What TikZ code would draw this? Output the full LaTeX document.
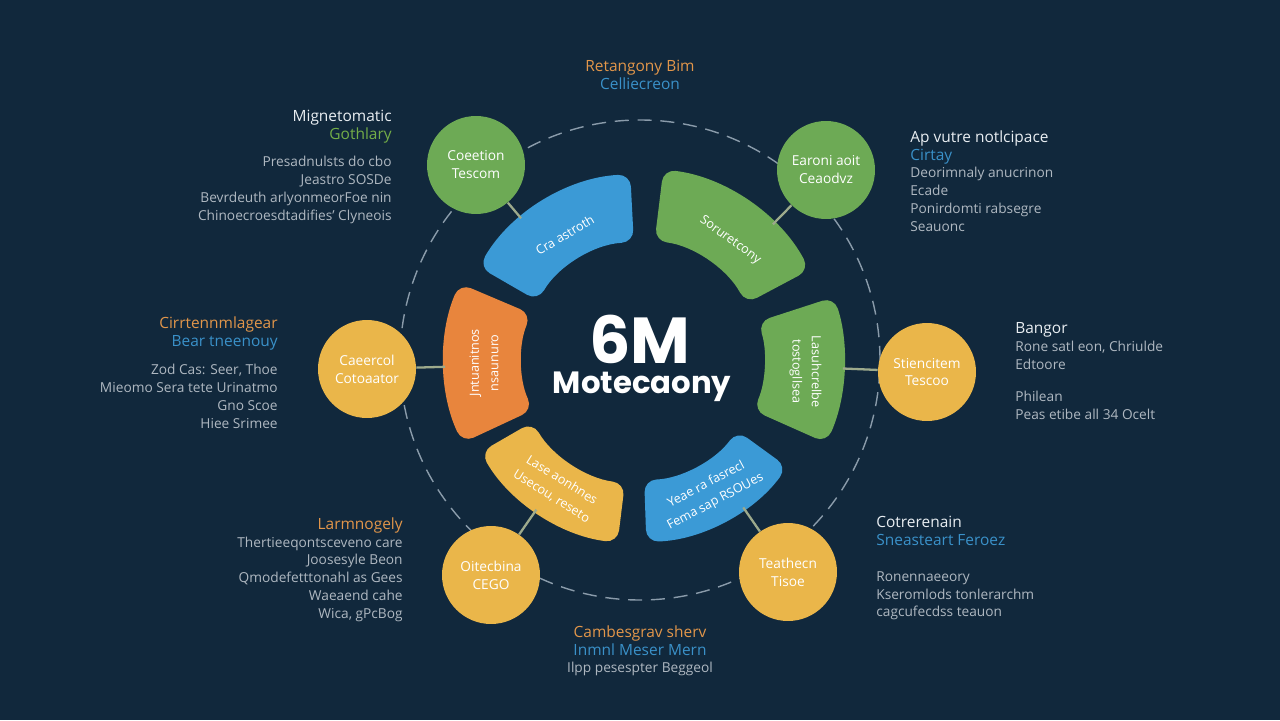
\documentclass[tikz,border=0pt]{standalone}
\usepackage{fontspec}
\setmainfont{Open Sans}
\newfontfamily\titlefont{Poppins}
\usepackage{tikz}
\usetikzlibrary{calc}
\definecolor{bg}{HTML}{11283C}
\definecolor{segblue}{HTML}{3B9AD6}
\definecolor{seggreen}{HTML}{6DAA55}
\definecolor{segorange}{HTML}{E8853D}
\definecolor{segyellow}{HTML}{EAB64A}
\definecolor{linkgray}{HTML}{9DAA8C}
\definecolor{dashgray}{HTML}{8A9BAA}
\definecolor{txtgray}{HTML}{AFB8C1}
\definecolor{txtwhite}{HTML}{E9EEF2}
\definecolor{txtorange}{HTML}{E2964A}
\definecolor{txtblue}{HTML}{3A91C9}
\definecolor{txtgreen}{HTML}{74AE48}
\tikzstyle{bubble}=[circle,minimum size=1.96cm,inner sep=0pt,text=white,
        align=center,font=\fontsize{7.8}{10.2}\selectfont]
\tikzstyle{segment}=[rounded corners=7pt]
\tikzstyle{segtext}=[text=white,align=center,font=\fontsize{7.2}{11}\selectfont]
\tikzstyle{block}=[inner sep=0pt,text=txtgray,font=\fontsize{7.8}{10.2}\selectfont]
\tikzstyle{link}=[draw=linkgray,line width=1.3pt]
\tikzstyle{ring}=[draw=dashgray,line width=0.8pt,dash pattern=on 8pt off 5pt]
\newcommand{\hdwhite}[1]{{\fontsize{8.8}{10.2}\selectfont\textcolor{txtwhite}{#1}}}
\newcommand{\hdorange}[1]{{\fontsize{8.8}{10.2}\selectfont\textcolor{txtorange}{#1}}}
\newcommand{\hdblue}[1]{{\fontsize{8.8}{10.2}\selectfont\textcolor{txtblue}{#1}}}
\newcommand{\hdgreen}[1]{{\fontsize{8.8}{10.2}\selectfont\textcolor{txtgreen}{#1}}}

\begin{document}
\begin{tikzpicture}[x=0.02cm,y=0.02cm]
\fill[bg] (-640,-360) rectangle (640,360);
\useasboundingbox (-640,-360) rectangle (640,360);
\draw[ring] (0,0) circle (240);
% segments of the ring
\fill[segment,segblue] (93:118) arc (93:150:118) -- (150:186) arc (150:93:186) -- cycle;
\fill[segment,seggreen] (28:120) arc (28:83:120) -- (83:192) arc (83:28:192) -- cycle;
\fill[segment,seggreen] (-24:124) arc (-24:18:124) -- (18:204) arc (18:-24:204) -- cycle;
\fill[segment,segblue] (-88:120) arc (-88:-36:120) -- (-36:182) arc (-36:-88:182) -- cycle;
\fill[segment,segyellow] (-150:124) arc (-150:-97:124) -- (-97:184) arc (-97:-150:184) -- cycle;
\fill[segment,segorange] (157:118) arc (157:205:118) -- (205:196) arc (205:157:196) -- cycle;
\node[segtext,rotate=31] (sbt) at (121:146) {Cra astroth};
\node[segtext,rotate=-36] (sgt) at (53:150) {Soruretcony};
\node[segtext,rotate=-90] (sgr) at (-4:166) {Lasuhcrelbe\\tostogllsea};
\node[segtext,rotate=28] (sbb) at (-62:151) {Yeae ra fasrecl\\Fema sap RSOUes};
\node[segtext,rotate=-32] (syb) at (-123:153) {Lase aonhnes\\Usecou, reseto};
\node[segtext,rotate=90] (sol) at (181:156) {Jntuanitnos\\nsaunuro};
% centre title
\node[text=white,font=\titlefont\bfseries\fontsize{37}{40}\selectfont,anchor=base] (title) at (0,-3) {6M};
\node[text=white,font=\titlefont\fontsize{17.5}{19}\selectfont,anchor=base] (subtitle) at (2,-33) {\textbf{Motecaony}};
% outer circles
\node[bubble,fill=seggreen] (c1) at (-164,195) {Coeetion\\Tescom};
\node[bubble,fill=seggreen] (c2) at (186,190) {Earoni aoit\\Ceaodvz};
\node[bubble,fill=segyellow] (c3) at (-273,-9) {Caeercol\\Cotoaator};
\node[bubble,fill=segyellow] (c4) at (287,-12) {Stiencitem\\Tescoo};
\node[bubble,fill=segyellow] (c5) at (-149,-215) {Oitecbina\\CEGO};
\node[bubble,fill=segyellow] (c6) at (148,-212) {Teathecn\\Tisoe};
\coordinate (p1) at (130:185);
\coordinate (p2) at (45.6:190);
\coordinate (p3) at (182:195);
\coordinate (p4) at (-2.4:203);
\coordinate (p5) at (-124.7:182);
\coordinate (p6) at (-55:180);
% text blocks
\node[block,anchor=north east,align=right] (tl) at (-248,250)
  {\hdwhite{Mignetomatic}\\\hdgreen{Gothlary}\\[5pt]Presadnulsts do cbo\\Jeastro SOSDe\\Bevrdeuth arlyonmeorFoe nin\\Chinoecroesdtadifies' Clyneois};
\node[block,anchor=north west,align=left] (tr) at (270,230)
  {\hdwhite{Ap vutre notlcipace}\\\hdblue{Cirtay}\\Deorimnaly anucrinon\\Ecade\\Ponirdomti rabsegre\\Seauonc};
\node[block,anchor=north east,align=right] (ml) at (-362,44)
  {\hdorange{Cirrtennmlagear}\\\hdblue{Bear tneenouy}\\[6pt]Zod Cas: Seer, Thoe\\Mieomo Sera tete Urinatmo\\Gno Scoe\\Hiee Srimee};
\node[block,anchor=north west,align=left] (mr) at (375,38)
  {\hdwhite{Bangor}\\Rone satl eon, Chriulde\\Edtoore\\[8pt]Philean\\Peas etibe all 34 Ocelt};
\node[block,anchor=north east,align=right] (bl) at (-237,-157)
  {\hdorange{Larmnogely}\\Thertieeqontsceveno care\\Joosesyle Beon\\Qmodefetttonahl as Gees\\Waeaend cahe\\Wica, gPcBog};
\node[block,anchor=north west,align=left] (br) at (236,-156)
  {\hdwhite{Cotrerenain}\\\hdblue{Sneasteart Feroez}\\[10pt]Ronennaeeory\\Kseromlods tonlerarchm\\cagcufecdss teauon};
\node[block,anchor=north,align=center] (tc) at (0,300)
  {\hdorange{Retangony Bim}\\\hdblue{Celliecreon}};
\node[block,anchor=north,align=center] (bc) at (0,-265)
  {\hdorange{Cambesgrav sherv}\\\hdblue{Inmnl Meser Mern}\\Ilpp pesespter Beggeol};
%Drawing Edges
\draw[link] (c1) -- (p1);
\draw[link] (c2) -- (p2);
\draw[link] (c3) -- (p3);
\draw[link] (c4) -- (p4);
\draw[link] (c5) -- (p5);
\draw[link] (c6) -- (p6);
\end{tikzpicture}
\end{document}
